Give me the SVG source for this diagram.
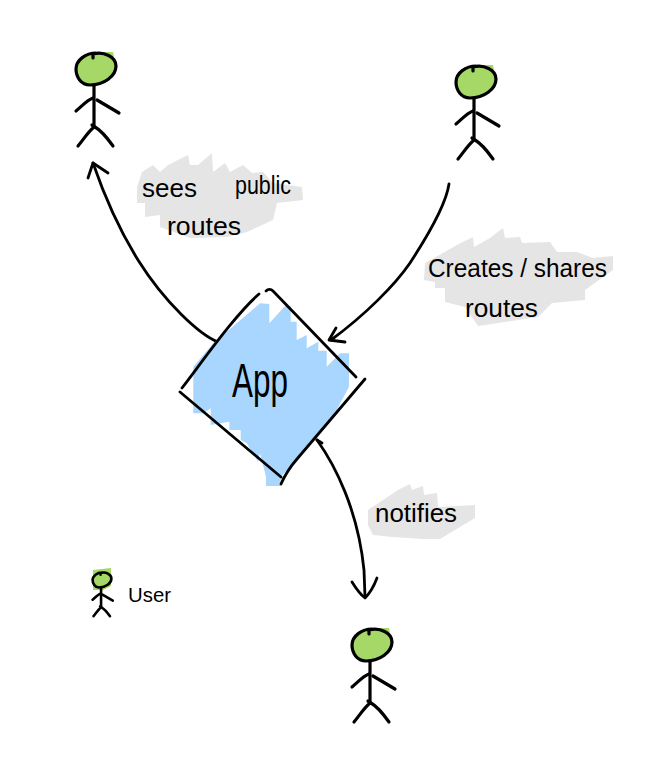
<svg xmlns="http://www.w3.org/2000/svg" xmlns:xlink="http://www.w3.org/1999/xlink" width="659" height="764" viewBox="0 0 659 764">
<style>
.ink{fill:none;stroke:#000;stroke-linecap:round;stroke-linejoin:round}
.wire{stroke-width:2.8}
.fig{stroke-width:3.2}
.smallfig{stroke-width:5.5}
.grey{fill:#e5e5e5}
.green{fill:#a5d867}
.blue{fill:#a9d6ff}
text{font-family:"Liberation Sans",Arial,sans-serif;fill:#000;font-size:26px}
</style>
<defs>
<g id="figure" class="ink">
<path d="M-3 -11 L-3 -15 C8 -18 20 -12 20 -3 C20 7 8 16 -6 16 C-15 16 -20 8 -20 0 C-20 -9 -10 -16 0 -16"/>
<path d="M-2 16 L-2 58"/>
<path d="M-3 29 C-9 31 -15 38 -20 42"/>
<path d="M1 31 L23 44"/>
<path d="M-4 56 L-2 58 C-8 63 -13 71 -18 77"/>
<path d="M-1 58 C6 62 12 70 17 77"/>
</g>
<path id="headfill" class="green" d="M-20 0 C-20 -9 -10 -17 2 -17 L17 -17 L20 -3 C20 7 8 16 -6 16 C-15 17 -20 8 -20 0 Z"/>
</defs>

<g id="label-backgrounds">
<polygon class="grey" points="137,187 142,172 153,165 160,172 168,165 188,155 190,165 198,165 212,153 213,172 225,163 230,172 243,165 252,173 263,172 273,183 302,187 303,200 277,203 273,220 247,232 227,237 190,238 160,227 160,215 145,217 145,203 137,203"/>
<polygon class="grey" points="424,280 425,263 443,253 457,245 473,237 474,247 490,238 503,228 505,238 520,237 522,243 550,242 557,252 577,252 593,258 613,256 613,270 585,290 585,300 552,303 538,317 478,326 465,307 445,302 445,288 435,288 435,282"/>
<polygon class="grey" points="368,525 368,510 398,490 410,484 412,490 423,486 424,495 437,493 438,507 475,505 475,518 440,539 423,539 393,537 373,535"/>
</g>

<g id="connectors" class="ink wire">
<path d="M218 342 C200 335 165 303 138 260 C120 231 104 195 93 163"/>
<path d="M88 178 L93 163 L108 173"/>
<path d="M449 184 C446 205 425 240 410 263 C395 285 365 315 331 340"/>
<path d="M336 328 L329 340 L345 342"/>
<path d="M317 440 C335 465 358 510 364 570 L365 597"/>
<path d="M317 440 L322 443"/>
<path d="M352 582 C357 590 361 595 365 598 C370 593 374 586 377 578"/>
</g>

<g id="app">
<polygon class="blue" points="193.300,366.700 213.300,343.300 260,303.300 269.300,304 269.300,323.300 285,306 290.700,306 290.700,321.700 296.700,321.700 296.700,340 306.700,335 306.700,348.300 318.300,341.700 318.300,350.700 326.700,350.700 326.700,366.700 340,353.300 349,353.300 349,386.700 336.700,410 316.700,436.700 296.700,460 280.700,476.700 280.700,486 266,486 266,476.700 260,453.300 258,461.700 246.700,443.300 240.700,440 240.700,430 229.300,430 229.300,421.700 210.700,425 210.700,408.300 203.300,413.300 193.300,413.300"/>
<g class="ink wire">
<path d="M259 294 C235 315 205 358 182 388"/>
<path d="M180 392 L281 477"/>
<path d="M281 484 C285 475 290 467 297 459 L365 379"/>
<path d="M266 291 C268 289 271 289 273 291 L356 377"/>
</g>
<text x="232" y="397" style="font-size:48px" textLength="56" lengthAdjust="spacingAndGlyphs">App</text>
</g>

<g id="user-top-left" transform="translate(96,69)">
<use href="#headfill" xlink:href="#headfill"/>
<use href="#figure" xlink:href="#figure" class="fig"/>
</g>
<g id="user-top-right" transform="translate(476,82)">
<use href="#headfill" xlink:href="#headfill"/>
<use href="#figure" xlink:href="#figure" class="fig"/>
</g>
<g id="user-bottom" transform="translate(372,645)">
<use href="#headfill" xlink:href="#headfill"/>
<use href="#figure" xlink:href="#figure" class="fig"/>
</g>

<g id="legend">
<polygon class="green" points="93,570 111,568 111,586 103,590 93,590"/>
<use href="#figure" xlink:href="#figure" class="smallfig" transform="translate(102,580) scale(.47)"/>
<text x="128" y="602" style="font-size:21px" textLength="43" lengthAdjust="spacingAndGlyphs">User</text>
</g>

<g id="label-sees-public-routes">
<text x="142" y="197" textLength="55" lengthAdjust="spacingAndGlyphs">sees</text>
<text x="235" y="194" textLength="56" lengthAdjust="spacingAndGlyphs">public</text>
<text x="167" y="235" textLength="74" lengthAdjust="spacingAndGlyphs">routes</text>
</g>
<g id="label-creates-shares-routes">
<text x="428" y="277" textLength="179" lengthAdjust="spacingAndGlyphs">Creates / shares</text>
<text x="465" y="317" textLength="73" lengthAdjust="spacingAndGlyphs">routes</text>
</g>
<g id="label-notifies">
<text x="375" y="522" textLength="82" lengthAdjust="spacingAndGlyphs">notifies</text>
</g>
</svg>
